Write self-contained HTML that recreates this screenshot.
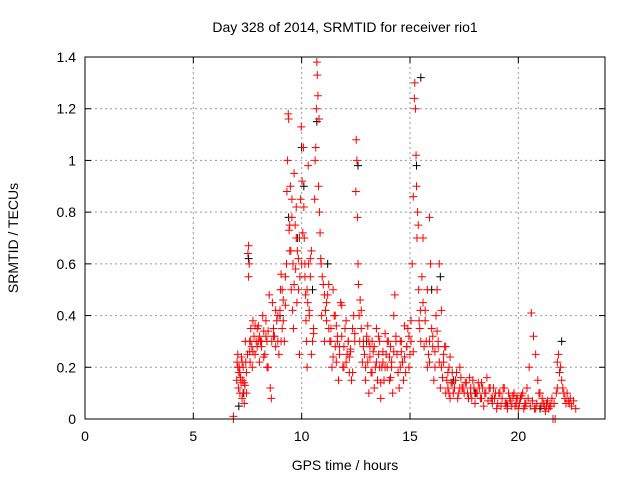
<!DOCTYPE html>
<html><head><meta charset="utf-8"><style>
body{margin:0;background:#fff}
svg text{font-family:"Liberation Sans",sans-serif;font-size:14px;fill:#000}
</style></head><body>
<svg id="c" width="640" height="480">
<rect x="0" y="0" width="640" height="480" fill="#fff"/>
<g id="grid"></g><g id="marks"></g><g id="axes"></g>
<text x="345" y="32" text-anchor="middle">Day 328 of 2014, SRMTID for receiver rio1</text>
<text x="345" y="470" text-anchor="middle">GPS time / hours</text>
<text transform="translate(18,238) rotate(-90)" text-anchor="middle">SRMTID / TECUs</text>
</svg>
<script>
const xTicks=[0,5,10,15,20];
const yTicks=[0,0.2,0.4,0.6,0.8,1,1.2,1.4];
const yTickLabels=["0","0.2","0.4","0.6","0.8","1","1.2","1.4"];
const redT=[6.85,6.85,7.0,7.02,7.05,7.08,7.1,7.12,7.15,7.18,7.2,7.22,7.25,7.28,7.3,7.33,7.35,7.38,7.4,7.42,7.45,7.5,7.52,7.55,7.55,7.58,7.6,7.62,7.65,7.7,7.72,7.75,7.8,7.85,7.9,7.95,8.0,8.05,8.1,8.15,8.2,8.25,8.3,8.35,8.4,8.45,8.5,8.55,8.6,8.62,8.65,8.7,8.75,8.8,8.85,8.9,8.95,9.0,9.02,9.05,9.1,9.15,9.2,9.25,9.3,9.32,9.35,9.38,9.4,9.42,9.45,9.48,9.5,9.52,9.55,9.58,9.6,9.62,9.65,9.7,9.72,9.75,9.78,9.8,9.85,9.9,9.92,9.95,9.98,10.0,10.02,10.05,10.08,10.1,10.12,10.15,10.18,10.2,10.22,10.25,10.28,10.3,10.32,10.35,10.4,10.45,10.5,10.55,10.6,10.62,10.65,10.68,10.7,10.72,10.75,10.78,10.8,10.82,10.85,10.88,10.9,10.92,10.95,11.0,11.05,11.1,11.15,11.2,11.25,11.3,11.35,11.4,11.45,11.5,11.55,11.6,11.65,11.7,11.75,11.8,11.85,11.9,11.95,12.0,12.05,12.1,12.15,12.2,12.25,12.3,12.35,12.4,12.45,12.5,12.52,12.55,12.58,12.6,12.62,12.65,12.68,12.7,12.75,12.8,12.85,12.9,12.95,13.0,13.05,13.1,13.15,13.2,13.25,13.3,13.35,13.4,13.45,13.5,13.55,13.6,13.65,13.7,13.75,13.8,13.85,13.9,13.95,14.0,14.05,14.1,14.15,14.2,14.25,14.3,14.35,14.4,14.45,14.5,14.55,14.6,14.65,14.7,14.75,14.8,14.85,14.9,14.95,15.0,15.05,15.1,15.15,15.2,15.22,15.25,15.28,15.3,15.32,15.35,15.38,15.4,15.42,15.45,15.48,15.5,15.55,15.6,15.65,15.7,15.75,15.8,15.85,15.9,15.95,16.0,16.05,16.1,16.15,16.2,16.25,16.3,16.35,16.4,16.45,16.5,16.55,16.6,16.65,16.7,16.75,16.8,16.85,16.9,16.95,17.0,17.1,17.2,17.3,17.4,17.5,17.6,17.7,17.8,17.9,18.0,18.1,18.2,18.3,18.4,18.5,18.6,18.7,18.8,18.9,19.0,19.1,19.2,19.3,19.4,19.5,19.6,19.7,19.8,19.9,20.0,20.1,20.2,20.3,20.4,20.5,20.6,20.7,20.8,20.9,21.0,21.1,21.2,21.3,21.4,21.5,21.6,21.7,21.8,21.85,21.9,21.95,22.0,22.05,22.1,22.15,22.2,22.3,22.4,22.5,22.6,22.7,10.0,10.05,18.9,17.5,17.8,18.2,18.6,19.3,19.8,20.4,21.2,21.6,22.4];
const redV=[0.0,0.01,0.15,0.22,0.25,0.12,0.18,0.2,0.1,0.16,0.14,0.24,0.08,0.15,0.2,0.1,0.06,0.13,0.3,0.22,0.18,0.25,0.64,0.67,0.55,0.6,0.3,0.22,0.35,0.28,0.2,0.38,0.32,0.25,0.3,0.35,0.36,0.22,0.3,0.28,0.4,0.34,0.25,0.32,0.3,0.2,0.48,0.12,0.08,0.3,0.45,0.35,0.32,0.28,0.38,0.3,0.25,0.42,0.5,0.56,0.35,0.46,0.3,0.55,0.6,0.88,1.0,1.18,1.16,0.73,0.75,0.9,0.65,0.5,0.85,0.42,0.6,0.35,0.95,0.75,0.58,0.82,0.45,0.65,0.5,0.25,0.55,0.85,1.13,0.6,0.92,0.72,1.05,0.82,0.7,0.6,0.48,0.38,0.3,0.2,0.45,0.98,0.6,0.4,0.55,0.25,0.3,0.35,0.85,1.0,1.05,1.2,1.38,1.33,1.25,0.9,1.16,0.8,0.72,0.62,0.6,0.4,0.55,0.52,0.3,0.42,0.45,0.48,0.35,0.3,0.35,0.2,0.5,0.4,0.28,0.22,0.3,0.15,0.25,0.45,0.32,0.2,0.28,0.35,0.22,0.25,0.3,0.18,0.26,0.15,0.35,0.4,0.3,0.88,1.08,1.0,0.78,0.6,0.52,0.4,0.3,0.46,0.35,0.22,0.3,0.25,0.15,0.32,0.22,0.1,0.28,0.18,0.3,0.26,0.12,0.2,0.35,0.15,0.25,0.3,0.08,0.2,0.22,0.15,0.33,0.25,0.2,0.3,0.15,0.28,0.22,0.1,0.4,0.48,0.3,0.25,0.18,0.12,0.2,0.3,0.22,0.15,0.24,0.18,0.28,0.35,0.32,0.25,0.38,0.6,0.86,1.24,1.3,1.2,1.02,0.9,0.7,0.8,0.75,0.5,0.38,0.35,0.42,0.3,0.55,0.45,0.28,0.38,0.3,0.2,0.25,0.78,0.6,0.35,0.28,0.15,0.2,0.4,0.34,0.28,0.22,0.12,0.2,0.16,0.25,0.28,0.1,0.15,0.12,0.1,0.08,0.14,0.18,0.1,0.15,0.08,0.2,0.12,0.1,0.14,0.08,0.12,0.15,0.06,0.1,0.12,0.08,0.05,0.1,0.07,0.12,0.06,0.08,0.04,0.1,0.05,0.12,0.06,0.04,0.08,0.05,0.1,0.06,0.04,0.08,0.1,0.06,0.12,0.2,0.41,0.32,0.25,0.15,0.1,0.08,0.05,0.06,0.04,0.05,0.0,0.0,0.22,0.25,0.18,0.2,0.15,0.12,0.1,0.08,0.06,0.07,0.08];
const redT2=[7.05,7.15,7.25,7.35,7.45,7.65,7.75,7.85,7.95,8.05,8.15,8.25,8.35,8.45,8.7,8.8,8.9,9.05,9.15,9.25,9.45,9.55,9.65,9.75,9.85,10.15,10.25,10.35,10.45,10.55,11.05,11.15,11.25,11.35,11.45,11.55,11.65,11.75,11.85,11.95,12.05,12.15,12.25,12.35,12.45,12.75,12.85,12.95,13.05,13.15,13.25,13.35,13.45,13.55,13.65,13.75,13.85,13.95,14.05,14.15,14.25,14.35,14.45,14.55,14.65,14.75,14.85,14.95,15.05,15.15,15.6,15.7,15.8,15.9,16.05,16.15,16.25,16.35,16.45,16.55,16.65,16.75,16.85,16.95,17.05,17.15,17.25,17.35,17.45,17.55,17.65,17.75,17.85,17.95,18.05,18.15,18.25,18.35,18.45,18.55,18.65,18.75,18.85,18.95,19.05,19.15,19.25,19.35,19.45,19.55,19.65,19.75,19.85,19.95,20.05,20.15,20.25,20.35,20.45,20.55,20.65,20.75,20.85,20.95,21.05,21.15,21.25,21.35,21.45,21.55,21.65,21.75,22.25,22.35,22.45,22.55,22.65,7.6,8.0,8.4,9.1,9.9,10.4,11.1,11.6,12.2,13.1,13.6,14.1,14.6,15.9,16.3,16.8,17.3,17.8,18.3,18.8,19.4,19.9,20.3,20.8,21.3,21.8];
const redV2=[0.2,0.18,0.22,0.14,0.1,0.3,0.26,0.36,0.28,0.32,0.3,0.24,0.38,0.34,0.32,0.42,0.4,0.3,0.38,0.44,0.65,0.78,0.52,0.7,0.62,0.55,0.5,0.42,0.65,0.33,0.48,0.38,0.52,0.3,0.24,0.4,0.32,0.28,0.44,0.2,0.38,0.3,0.27,0.18,0.33,0.42,0.28,0.2,0.36,0.24,0.18,0.28,0.22,0.32,0.14,0.26,0.2,0.3,0.24,0.2,0.26,0.32,0.18,0.3,0.22,0.36,0.28,0.2,0.3,0.26,0.7,0.42,0.5,0.3,0.32,0.26,0.5,0.6,0.42,0.22,0.28,0.18,0.24,0.14,0.12,0.18,0.1,0.16,0.12,0.14,0.1,0.16,0.08,0.12,0.1,0.14,0.08,0.12,0.1,0.16,0.12,0.08,0.12,0.1,0.06,0.1,0.08,0.12,0.06,0.1,0.07,0.09,0.05,0.08,0.06,0.09,0.04,0.06,0.08,0.05,0.07,0.04,0.06,0.1,0.05,0.06,0.03,0.07,0.05,0.08,0.06,0.1,0.1,0.06,0.05,0.07,0.04,0.26,0.3,0.2,0.5,0.7,0.62,0.42,0.36,0.24,0.3,0.2,0.16,0.26,0.22,0.3,0.2,0.12,0.1,0.14,0.08,0.06,0.08,0.05,0.04,0.05,0.12];
const blackT=[7.1,7.3,7.55,8.1,9.0,9.4,9.8,10.0,10.1,10.5,10.7,11.2,12.6,13.0,15.3,15.5,16.0,16.4,17.0,18.0,19.5,21.0,22.0];
const blackV=[0.05,0.1,0.62,0.3,0.4,0.78,0.7,1.05,0.9,0.5,1.15,0.6,0.98,0.3,0.98,1.32,0.5,0.55,0.15,0.1,0.05,0.04,0.3];
const L=85,R=605,T=57,B=419;
const sx=v=>L+(R-L)*v/24, sy=v=>B-(B-T)*v/1.4;
const NS="http://www.w3.org/2000/svg";
function mk(tag,a,p){const e=document.createElementNS(NS,tag);for(const k in a)e.setAttribute(k,a[k]);p.appendChild(e);return e;}
const grid=document.getElementById('grid'),axes=document.getElementById('axes'),marks=document.getElementById('marks');
xTicks.forEach(t=>{const x=sx(t);
 if(t>0){const g=mk('line',{x1:x,x2:x,y1:T,y2:B,stroke:'#999','stroke-dasharray':'2,3'},grid);
 
 }
 mk('line',{x1:x,x2:x,y1:B,y2:B-6,stroke:'#000'},axes);mk('line',{x1:x,x2:x,y1:T,y2:T+6,stroke:'#000'},axes);
 const tx=mk('text',{x:x,y:B+22,'text-anchor':'middle'},axes);tx.textContent=t;
 
 });
yTicks.forEach((t,i)=>{const y=sy(t);
 if(t>0&&t<1.4){const g=mk('line',{x1:L,x2:R,y1:y,y2:y,stroke:'#999','stroke-dasharray':'2,3'},grid);
 
 }
 mk('line',{x1:L,x2:L+6,y1:y,y2:y,stroke:'#000'},axes);mk('line',{x1:R,x2:R-6,y1:y,y2:y,stroke:'#000'},axes);
 const tx=mk('text',{x:L-9,y:y+5,'text-anchor':'end'},axes);tx.textContent=yTickLabels[i];
 
 });
const fr=mk('rect',{x:L,y:T,width:R-L,height:B-T,fill:'none',stroke:'#000'},axes);


function plus(t,v,col,name){const x=sx(t),y=sy(v);
 const p=mk('path',{d:`M${x-4},${y}H${x+4}M${x},${y-4}V${y+4}`,stroke:col,'stroke-width':1,fill:'none'},marks);
 
 }
blackT.forEach((t,i)=>plus(t,blackV[i],'#000','black-point'));
redT.forEach((t,i)=>plus(t,redV[i],'#f00','red-point'));
redT2.forEach((t,i)=>plus(t,redV2[i],'#f00','red-point'));
</script>
</body></html>
